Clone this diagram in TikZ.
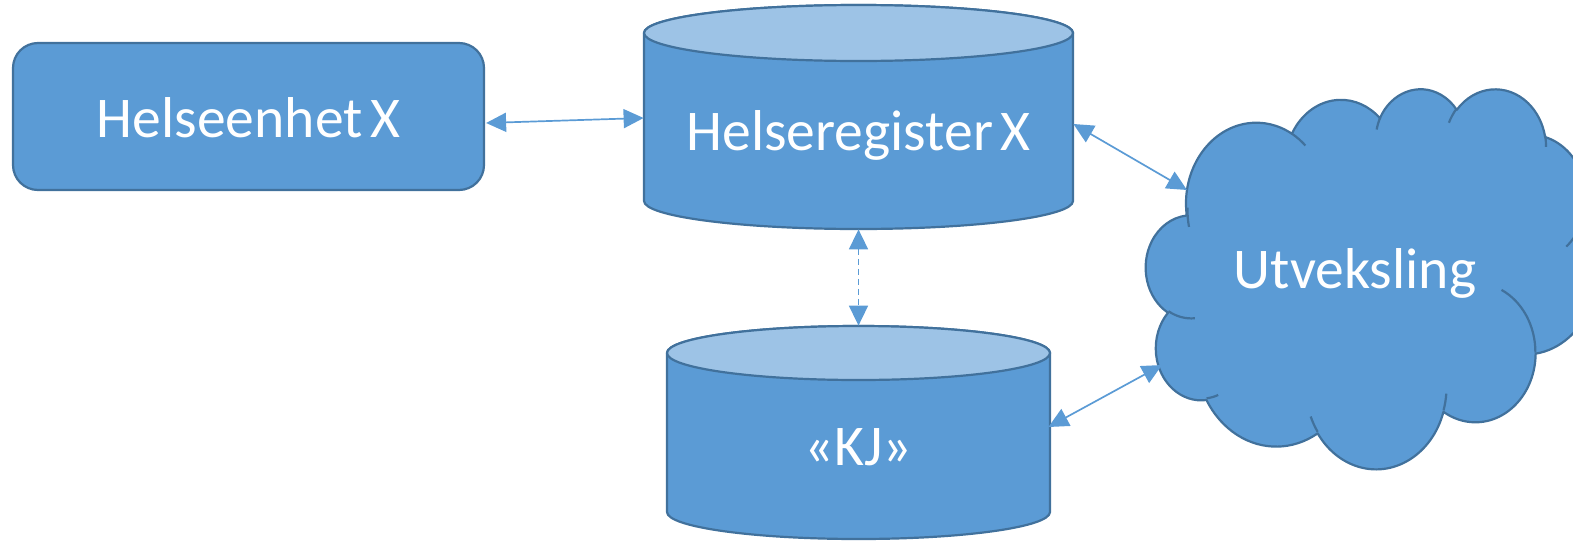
\documentclass[tikz,border=0pt]{standalone}
\usepackage{fontspec}
\setmainfont{Carlito}
\usetikzlibrary{arrows.meta,calc}
\definecolor{boxfill}{HTML}{5B9BD5}
\definecolor{capfill}{HTML}{9DC3E6}
\definecolor{edge}{HTML}{41719C}
\definecolor{linkblue}{HTML}{5B9BD5}

% one puff of the cloud outline: elliptical arc from radii, visual start angle and sweep
\newcommand\puff[4]{arc[x radius=#1pt, y radius=#2pt,
  start angle={atan2(#1*sin(#3),#2*cos(#3))},
  delta angle={mod(atan2(#1*sin(#3+#4),#2*cos(#3+#4))-atan2(#1*sin(#3),#2*cos(#3))+720,360)}]}

% database drum: centre x, top ellipse y, bottom ellipse y, x radius, y radius
\newcommand\drum[5]{%
  \path[shapeedge, fill=boxfill] (#1-#4,#2) -- (#1-#4,#3)
     arc[start angle=180, end angle=360, x radius=#4*0.5pt, y radius=#5*0.5pt]
     -- (#1+#4,#2)
     arc[start angle=0, end angle=180, x radius=#4*0.5pt, y radius=#5*0.5pt] -- cycle;
  \path[shapeedge, fill=capfill] (#1,#2) ellipse[x radius=#4*0.5pt, y radius=#5*0.5pt];
}

\tikzset{
  shapeedge/.style={draw=edge, line width=1.1pt},
  bigtext/.style={text=white, font={\fontsize{28.8}{34}\selectfont\spaceskip=3.7pt\relax},
    inner sep=0pt, text depth=0pt},
  unitbox/.style={bigtext, shapeedge, fill=boxfill, rounded corners=12.5pt,
    minimum width=235.5pt, minimum height=73.5pt, text height=20.5pt},
  link/.style={draw=linkblue, line width=0.85pt,
    {Triangle[length=10pt,width=9.5pt]}-{Triangle[length=10pt,width=9.5pt]}},
}

\begin{document}
\begin{tikzpicture}[x=0.5pt, y=-0.5pt, line join=round]
\useasboundingbox (0,0) rectangle (1573,541);

% database drums
\drum{858.5}{33}{201}{214.5}{28}
\drum{858.5}{353}{512}{191.5}{27}

% exchange cloud
\begin{scope}[shift={(1146,88)}, xscale=0.52083, yscale=-0.4398]
  \path[shapeedge, fill=boxfill] (39pt,143.7pt)
    \puff{67.53}{91.90}{-190.4875}{123.7805}
    \puff{53.33}{72.67}{-144.1024}{89.9452}
    \puff{43.65}{59.45}{-145.8079}{99.7230}
    \puff{48.57}{65.95}{-130.9861}{117.2417}
    \puff{53.33}{72.73}{-78.7089}{109.0269}
    \puff{67.75}{92.20}{-46.2673}{130.2690}
    \puff{57.85}{78.67}{0.6250}{114.0333}
    \puff{67.52}{92.15}{22.4516}{115.1726}
    \puff{77.20}{105.43}{66.2426}{75.7110}
    \puff{43.60}{59.18}{-274.9421}{146.7356}
    \puff{43.45}{59.45}{-246.8285}{152.5189}
    -- cycle;
  \path[shapeedge]
    (46.93pt,261.77pt) \puff{43.45}{59.45}{86.7420}{26.4295}
    (69.28pt,348.99pt) \puff{43.60}{59.18}{73.6105}{11.4475}
    (164.78pt,390.90pt) \puff{67.52}{92.15}{137.6242}{14.0811}
    (288.27pt,347.51pt) \puff{67.52}{92.15}{6.4533}{15.9984}
    (341.29pt,229.54pt) \puff{57.85}{78.67}{-70.2924}{70.9174}
    (417.98pt,153.54pt) \puff{53.33}{72.73}{30.3180}{27.7515}
    (383.24pt,54.26pt) \puff{48.57}{65.95}{-13.7443}{14.8589}
    (290.78pt,39.52pt) \puff{48.57}{65.95}{-149.1815}{18.1954}
    (221.41pt,47.20pt) \puff{43.65}{59.45}{-163.4943}{17.8372}
    (140.00pt,51.92pt) \puff{67.53}{91.90}{-66.7070}{12.3194}
    (41.27pt,157.89pt) \puff{67.53}{91.90}{163.9249}{18.4142};
\end{scope}

% nodes
\node[unitbox] (he) at (248.5,116.5) {Helseenhet X};
\node[bigtext, minimum width=214.5pt, minimum height=112pt, text height=33pt]
  (reg) at (858.5,117) {Helseregister X};
\node[bigtext, minimum width=191.5pt, minimum height=106.5pt, text height=32.5pt]
  (kj) at (858.5,432.5) {«KJ»};
\node[bigtext, text height=18pt] (ut) at (1355,270) {Utveksling};

% connectors
\draw[link] ($(he.east)+(1,6.5)$) -- ($(reg.west)+(0,1)$);
\draw[link] ($(reg.east)+(0,7)$) -- ($(ut.center)+(-168,-80)$);
\draw[link, dash pattern=on 3pt off 2pt] (reg.south) -- (kj.north);
\draw[link] ($(kj.east)+(-2,-5.5)$) -- ($(ut.center)+(-193,95)$);
\end{tikzpicture}
\end{document}
